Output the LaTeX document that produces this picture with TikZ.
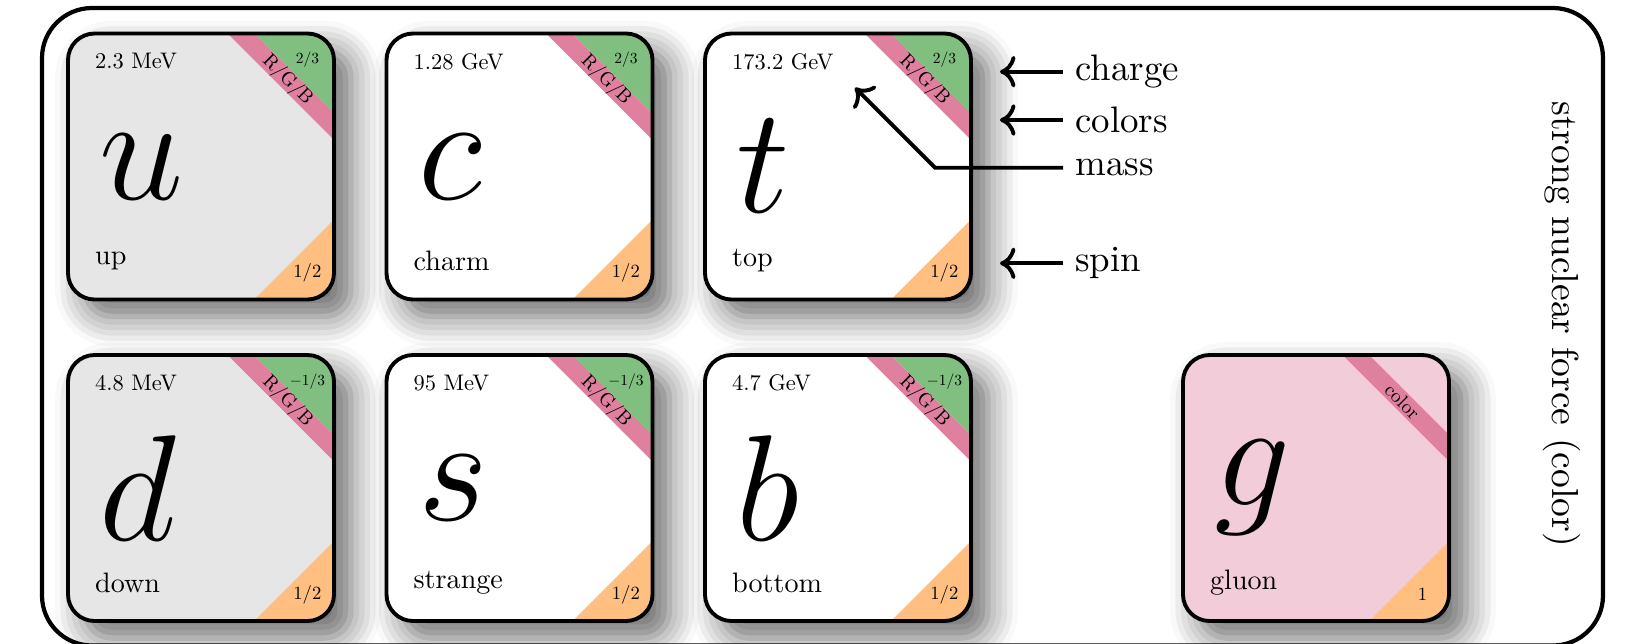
\RequirePackage{fix-cm}
\documentclass[tikz,border=0pt]{standalone}
\usetikzlibrary{arrows.meta,shadows.blur}

\definecolor{quarkgray}{RGB}{230,230,230}
\definecolor{gluonpink}{RGB}{242,204,217}
\definecolor{colorpink}{RGB}{223,128,159}
\definecolor{chargegreen}{RGB}{128,191,128}
\definecolor{spinorange}{RGB}{255,191,128}

\tikzset{
	card/.style={fill=#1, blur shadow={shadow xshift=0.17cm, shadow yshift=-0.17cm,
			shadow blur radius=0.3cm, shadow blur steps=6, shadow opacity=60}},
	cardline/.style={line width=1.1pt},
	massl/.style={anchor=west, inner sep=0pt, scale=0.64},
	namel/.style={anchor=west, inner sep=0pt, scale=0.8},
	symbl/.style={anchor=west, inner sep=0pt, font=\fontsize{12}{14}\selectfont, scale=3.58},
	chargel/.style={inner sep=0pt, scale=0.44},
	spinl/.style={inner sep=0pt, scale=0.53},
	colorl/.style={inner sep=0pt, rotate=-45, scale=0.55},
	legend/.style={anchor=west, font=\fontsize{10.5}{12}\selectfont},
	force/.style={rotate=-90, font=\fontsize{10.7}{12}\selectfont},
	pointer/.style={line width=1.1pt, -{To[length=4.4pt,width=9pt]}}
}

\begin{document}
\begin{tikzpicture}
	\clip (0,0) rectangle (16.30,-6.43);
	
	% Frame
	\draw[line width=1.2pt, rounded corners=0.5cm] (0.42,-0.08) rectangle (16.03,-6.455);
	
	% Quarks
	\foreach \px/\py/\fillc/\sym/\mass/\pname/\charge in {
		0.68/-0.335/quarkgray/u/{2.3 MeV}/up/{$2/3$},
		3.865/-0.335/white/c/{1.28 GeV}/charm/{$2/3$},
		7.05/-0.335/white/t/{173.2 GeV}/top/{$2/3$},
		0.68/-3.55/quarkgray/d/{4.8 MeV}/down/{$-1/3$},
		3.865/-3.55/white/s/{95 MeV}/strange/{$-1/3$},
		7.05/-3.55/white/b/{4.7 GeV}/bottom/{$-1/3$}}{
		\begin{scope}[shift={(\px,\py)}, x=2.66cm, y=2.66cm]
			\path[card=\fillc, rounded corners=0.266cm] (0,0) rectangle (1,-1);
			\fill[colorpink] (0.6,0) -- (0.7,0) -- (1,-0.3) -- (1,-0.4) -- cycle;
			\fill[chargegreen] (0.7,0) -- (0.9,0) arc (90:0:0.1) -- (1,-0.3) -- cycle;
			\fill[spinorange] (1,-0.7) -- (1,-0.9) arc (0:-90:0.1) -- (0.7,-1) -- cycle;
			\draw[cardline, rounded corners=0.266cm] (0,0) rectangle (1,-1);
			\node[colorl] (\pname-color) at (0.825,-0.175) {R/G/B};
			\node[chargel] (\pname-charge) at (0.9,-0.1) {\charge};
			\node[spinl] (\pname-spin) at (0.9,-0.9) {$1/2$};
			\node[massl] (\pname-mass) at (0.1,-0.105) {\mass};
			\node[namel] (\pname-name) at (0.1,-0.855) {\pname};
			\node[symbl] (\pname-sym) at (0.11,-0.5) {$\sym$};
		\end{scope}
	}
	
	% Gluon
	\begin{scope}[shift={(11.83,-3.55)}, x=2.66cm, y=2.66cm]
		\path[card=gluonpink, rounded corners=0.266cm] (0,0) rectangle (1,-1);
		\fill[colorpink] (0.6,0) -- (0.7,0) -- (1,-0.3) -- (1,-0.4) -- cycle;
		\fill[spinorange] (1,-0.7) -- (1,-0.9) arc (0:-90:0.1) -- (0.7,-1) -- cycle;
		\draw[cardline, rounded corners=0.266cm] (0,0) rectangle (1,-1);
		\node[colorl] (gluon-color) at (0.825,-0.175) {color};
		\node[spinl] (gluon-spin) at (0.9,-0.9) {$1$};
		\node[namel] (gluon-name) at (0.1,-0.855) {gluon};
		\node[symbl] (gluon-sym) at (0.11,-0.5) {$g$};
	\end{scope}
	
	% Legend
	\coordinate (charge-tip) at (10.0,-0.717);
	\coordinate (colors-tip) at (10.0,-1.20);
	\coordinate (mass-bend) at (9.35,-1.677);
	\coordinate (mass-tip) at (8.55,-0.877);
	\coordinate (spin-tip) at (10.0,-2.633);
	\node[legend] (charge) at (10.63,-0.717) {charge};
	\node[legend] (colors) at (10.63,-1.20) {colors};
	\node[legend] (mass) at (10.63,-1.677) {mass};
	\node[legend] (spin) at (10.63,-2.633) {spin};
	\draw[pointer] (charge.west) -- (charge-tip);
	\draw[pointer] (colors.west) -- (colors-tip);
	\draw[pointer] (mass.west) -- (mass-bend) -- (mass-tip);
	\draw[pointer] (spin.west) -- (spin-tip);
	
	% Force
	\node[force] (force) at (15.62,-3.24) {strong nuclear force (color)};
\end{tikzpicture}
\end{document}
